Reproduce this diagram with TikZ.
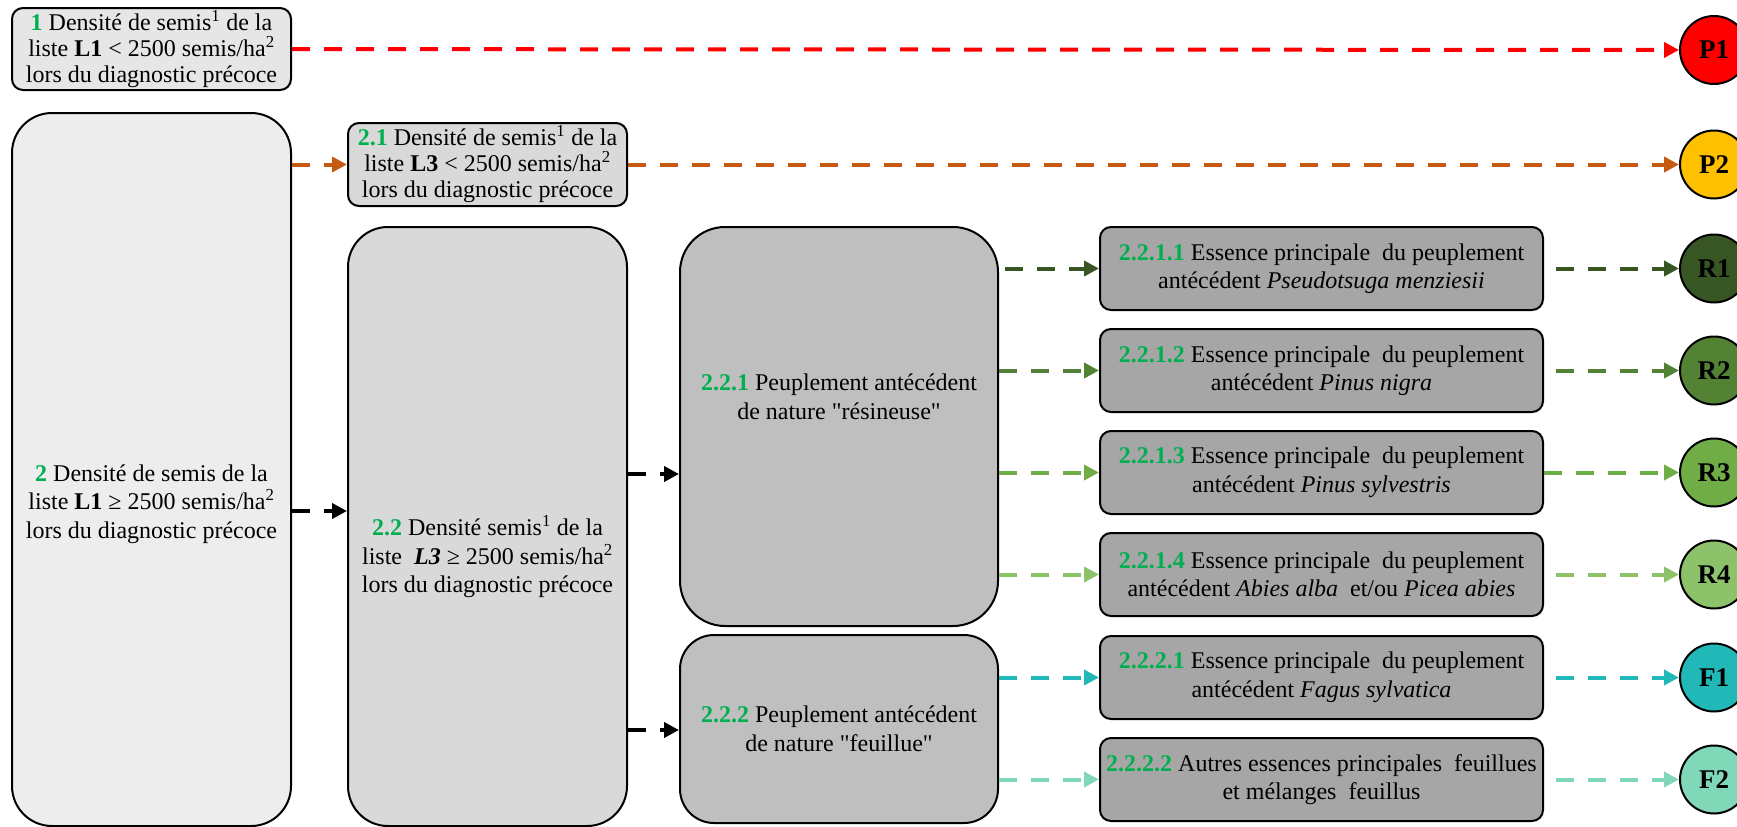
\documentclass[tikz,border=0pt]{standalone}
\usepackage{fontspec}
\setmainfont{Liberation Serif}
% same face without the TeX quote mapping, for straight double quotes
\newfontfamily\plainserif{Liberation Serif}
\usetikzlibrary{arrows.meta}

\definecolor{numgreen}{HTML}{00B050}
\definecolor{fillA}{HTML}{E7E6E6}
\definecolor{fillB}{HTML}{EDEDED}
\definecolor{fillC}{HTML}{D9D9D9}
\definecolor{fillD}{HTML}{BFBFBF}
\definecolor{fillE}{HTML}{A6A6A6}
\definecolor{cP1}{HTML}{FF0000}
\definecolor{cP2}{HTML}{FFC000}
\definecolor{aP2}{HTML}{C55A11}
\definecolor{cR1}{HTML}{375623}
\definecolor{cR2}{HTML}{548235}
\definecolor{cR3}{HTML}{70AD47}
\definecolor{cR4}{HTML}{8CC36A}
\definecolor{cF1}{HTML}{23B8B8}
\definecolor{cF2}{HTML}{80D8B8}

\newcommand{\num}[1]{\textcolor{numgreen}{\textbf{#1}}}
\newcommand{\qt}{{\plainserif"}}

\tikzset{
  box/.style={draw=black, line width=2pt, inner sep=0pt, align=center,
    font=\fontsize{24}{28.5}\selectfont},
  tight/.style={font=\fontsize{24}{26}\selectfont},
  txt/.style={inner sep=0pt, align=center, font=\fontsize{24}{28.5}\selectfont},
  disc/.style={circle, draw=black, line width=2pt, minimum size=68pt,
    inner sep=0pt, font=\fontsize{27}{28}\selectfont\bfseries},
  link/.style={line width=4pt, dash pattern=on 18pt off 14pt,
    -{Triangle[length=15pt,width=15pt]}},
}

\begin{document}
\begin{tikzpicture}[x=1pt,y=-1pt]
\clip (0,0) rectangle (1737,827);

% first column
\node[box, tight, fill=fillA, rounded corners=11pt, minimum width=279pt, minimum height=82pt]
  (b1) at (151.5,49) {\num{1} Densité de semis\textsuperscript{1} de la\\
  liste \textbf{L1} < 2500 semis/ha\textsuperscript{2}\\ lors du diagnostic précoce};
\node[box, fill=fillB, rounded corners=40pt, minimum width=279pt, minimum height=713pt]
  (b2) at (151.5,469.5) {};
\node[txt] (b2t) at (151.5,504) {\num{2} Densité de semis de la\\
  liste \textbf{L1} ≥ 2500 semis/ha\textsuperscript{2}\\ lors du diagnostic précoce};

% second column
\node[box, tight, fill=fillC, rounded corners=11pt, minimum width=279pt, minimum height=83pt]
  (b21) at (487.5,164.5) {\num{2.1} Densité de semis\textsuperscript{1} de la\\
  liste \textbf{L3} < 2500 semis/ha\textsuperscript{2}\\ lors du diagnostic précoce};
\node[box, fill=fillC, rounded corners=40pt, minimum width=279pt, minimum height=599pt]
  (b22) at (487.5,526.5) {};
\node[txt] (b22t) at (487.5,557) {\num{2.2} Densité semis\textsuperscript{1} de la\\
  liste \ \textbf{\textit{L3}} ≥ 2500 semis/ha\textsuperscript{2}\\ lors du diagnostic précoce};

% third column
\node[box, fill=fillD, rounded corners=45pt, minimum width=318pt, minimum height=399pt]
  (b221) at (839,426.5) {};
\node[txt] (b221t) at (839,397) {\num{2.2.1} Peuplement antécédent\\ de nature \qt résineuse\qt};
\node[box, fill=fillD, rounded corners=34pt, minimum width=318pt, minimum height=188pt]
  (b222) at (839,729) {\num{2.2.2} Peuplement antécédent\\ de nature \qt feuillue\qt};

% fourth column
\tikzset{leaf/.style={box, fill=fillE, rounded corners=11pt, minimum width=443pt, minimum height=83pt}}
\node[leaf] (s1) at (1321.5,268.5) {\num{2.2.1.1} Essence principale \ du peuplement\\ antécédent \textit{Pseudotsuga menziesii}};
\node[leaf] (s2) at (1321.5,370.5) {\num{2.2.1.2} Essence principale \ du peuplement\\ antécédent \textit{Pinus nigra}};
\node[leaf] (s3) at (1321.5,472.5) {\num{2.2.1.3} Essence principale \ du peuplement\\ antécédent \textit{Pinus sylvestris}};
\node[leaf] (s4) at (1321.5,574.5) {\num{2.2.1.4} Essence principale \ du peuplement\\ antécédent \textit{Abies alba} \ et/ou \textit{Picea abies}};
\node[leaf] (s5) at (1321.5,677.5) {\num{2.2.2.1} Essence principale \ du peuplement\\ antécédent \textit{Fagus sylvatica}};
\node[leaf] (s6) at (1321.5,779.5) {\num{2.2.2.2} Autres essences principales \ feuillues\\ et mélanges \ feuillus};

% outcome discs
\node[disc, fill=cP1] (p1) at (1714,50) {P1};
\node[disc, fill=cP2] (p2) at (1714,164.5) {P2};
\node[disc, fill=cR1] (r1) at (1714,268.5) {R1};
\node[disc, fill=cR2] (r2) at (1714,370.5) {R2};
\node[disc, fill=cR3] (r3) at (1714,472.5) {R3};
\node[disc, fill=cR4] (r4) at (1714,574.5) {R4};
\node[disc, fill=cF1] (f1) at (1714,677.5) {F1};
\node[disc, fill=cF2] (f2) at (1714,779.5) {F2};

% connectors
\draw[link, cP1] (b1) -- (p1);
\draw[link, aP2] (b2.east |- b21) -- (b21);
\draw[link, aP2] (b21) -- (p2);
\draw[link, black] (b2.east |- 0,511) -- (b22.west |- 0,511);
\draw[link, black] (b22.east |- 0,474) -- (b221.west |- 0,474);
\draw[link, black] (b22.east |- 0,730) -- (b222.west |- 0,730);

\draw[link, cR1, shorten <=6pt] (b221.east |- s1) -- (s1);
\draw[link, cR2] (b221.east |- s2) -- (s2);
\draw[link, cR3] (b221.east |- s3) -- (s3);
\draw[link, cR4] (b221.east |- s4) -- (s4);
\draw[link, cF1] (b222.east |- s5) -- (s5);
\draw[link, cF2] (b222.east |- s6) -- (s6);

\draw[link, cR1, shorten <=12pt] (s1) -- (r1);
\draw[link, cR2, shorten <=12pt] (s2) -- (r2);
\draw[link, cR3] (s3) -- (r3);
\draw[link, cR4, shorten <=12pt] (s4) -- (r4);
\draw[link, cF1, shorten <=12pt] (s5) -- (f1);
\draw[link, cF2, shorten <=12pt] (s6) -- (f2);
\end{tikzpicture}
\end{document}
